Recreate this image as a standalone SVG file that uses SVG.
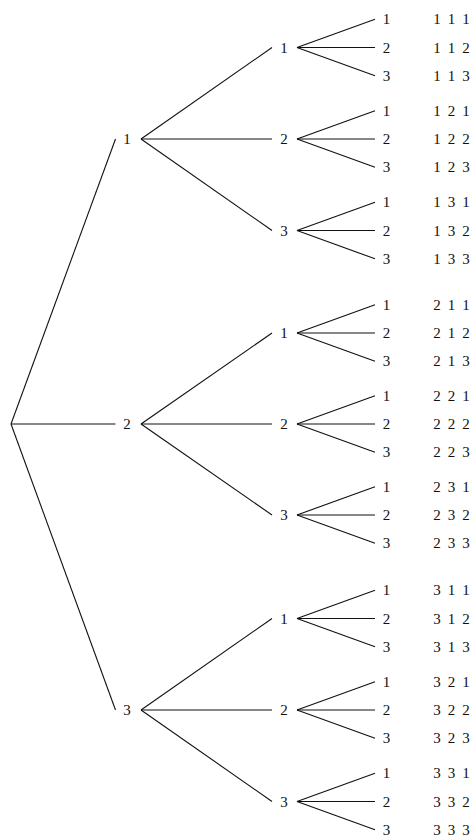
<svg xmlns="http://www.w3.org/2000/svg" width="475" height="837" viewBox="0 0 475 837">
<style>
text{font-family:"Liberation Serif","DejaVu Serif",serif;font-size:15px;fill:#111;text-anchor:middle}
line{stroke:#111;stroke-width:1.1}
</style>
<rect width="475" height="837" fill="#fff"/>
<g id="connectors">
<line x1="11" y1="424" x2="115.5" y2="139"/>
<line x1="11" y1="424" x2="115.5" y2="424"/>
<line x1="11" y1="424" x2="115.5" y2="710"/>
<line x1="141" y1="139" x2="272" y2="47.5"/>
<line x1="141" y1="139" x2="272" y2="139"/>
<line x1="141" y1="139" x2="272" y2="230.5"/>
<line x1="141" y1="424" x2="272" y2="333"/>
<line x1="141" y1="424" x2="272" y2="424"/>
<line x1="141" y1="424" x2="272" y2="515"/>
<line x1="141" y1="710" x2="272" y2="618.5"/>
<line x1="141" y1="710" x2="272" y2="710"/>
<line x1="141" y1="710" x2="272" y2="801.5"/>
<line x1="297" y1="47.5" x2="375" y2="19.2"/><line x1="297" y1="47.5" x2="375" y2="47.5"/><line x1="297" y1="47.5" x2="375" y2="75.8"/>
<line x1="297" y1="139" x2="375" y2="110.7"/><line x1="297" y1="139" x2="375" y2="139"/><line x1="297" y1="139" x2="375" y2="167.3"/>
<line x1="297" y1="230.5" x2="375" y2="202.2"/><line x1="297" y1="230.5" x2="375" y2="230.5"/><line x1="297" y1="230.5" x2="375" y2="258.8"/>
<line x1="297" y1="333" x2="375" y2="304.7"/><line x1="297" y1="333" x2="375" y2="333"/><line x1="297" y1="333" x2="375" y2="361.3"/>
<line x1="297" y1="424" x2="375" y2="395.7"/><line x1="297" y1="424" x2="375" y2="424"/><line x1="297" y1="424" x2="375" y2="452.3"/>
<line x1="297" y1="515" x2="375" y2="486.7"/><line x1="297" y1="515" x2="375" y2="515"/><line x1="297" y1="515" x2="375" y2="543.3"/>
<line x1="297" y1="618.5" x2="375" y2="590.2"/><line x1="297" y1="618.5" x2="375" y2="618.5"/><line x1="297" y1="618.5" x2="375" y2="646.8"/>
<line x1="297" y1="710" x2="375" y2="681.7"/><line x1="297" y1="710" x2="375" y2="710"/><line x1="297" y1="710" x2="375" y2="738.3"/>
<line x1="297" y1="801.5" x2="375" y2="773.2"/><line x1="297" y1="801.5" x2="375" y2="801.5"/><line x1="297" y1="801.5" x2="375" y2="829.8"/>
</g>
<g id="level1">
<text x="127" y="144">1</text>
<text x="127" y="429">2</text>
<text x="127" y="715">3</text>
</g>
<g id="level2">
<text x="284" y="52.5">1</text><text x="284" y="144">2</text><text x="284" y="235.5">3</text>
<text x="284" y="338">1</text><text x="284" y="429">2</text><text x="284" y="520">3</text>
<text x="284" y="623.5">1</text><text x="284" y="715">2</text><text x="284" y="806.5">3</text>
</g>
<g id="leaves">
<text x="386.5" y="24.2">1</text><text x="386.5" y="52.5">2</text><text x="386.5" y="80.8">3</text>
<text x="386.5" y="115.7">1</text><text x="386.5" y="144">2</text><text x="386.5" y="172.3">3</text>
<text x="386.5" y="207.2">1</text><text x="386.5" y="235.5">2</text><text x="386.5" y="263.8">3</text>
<text x="386.5" y="309.7">1</text><text x="386.5" y="338">2</text><text x="386.5" y="366.3">3</text>
<text x="386.5" y="400.7">1</text><text x="386.5" y="429">2</text><text x="386.5" y="457.3">3</text>
<text x="386.5" y="491.7">1</text><text x="386.5" y="520">2</text><text x="386.5" y="548.3">3</text>
<text x="386.5" y="595.2">1</text><text x="386.5" y="623.5">2</text><text x="386.5" y="651.8">3</text>
<text x="386.5" y="686.7">1</text><text x="386.5" y="715">2</text><text x="386.5" y="743.3">3</text>
<text x="386.5" y="778.2">1</text><text x="386.5" y="806.5">2</text><text x="386.5" y="834.8">3</text>
</g>
<g id="outcomes">
<text x="437 444 451.5 459 466" y="24.2">1 1 1</text><text x="437 444 451.5 459 466" y="52.5">1 1 2</text><text x="437 444 451.5 459 466" y="80.8">1 1 3</text>
<text x="437 444 451.5 459 466" y="115.7">1 2 1</text><text x="437 444 451.5 459 466" y="144">1 2 2</text><text x="437 444 451.5 459 466" y="172.3">1 2 3</text>
<text x="437 444 451.5 459 466" y="207.2">1 3 1</text><text x="437 444 451.5 459 466" y="235.5">1 3 2</text><text x="437 444 451.5 459 466" y="263.8">1 3 3</text>
<text x="437 444 451.5 459 466" y="309.7">2 1 1</text><text x="437 444 451.5 459 466" y="338">2 1 2</text><text x="437 444 451.5 459 466" y="366.3">2 1 3</text>
<text x="437 444 451.5 459 466" y="400.7">2 2 1</text><text x="437 444 451.5 459 466" y="429">2 2 2</text><text x="437 444 451.5 459 466" y="457.3">2 2 3</text>
<text x="437 444 451.5 459 466" y="491.7">2 3 1</text><text x="437 444 451.5 459 466" y="520">2 3 2</text><text x="437 444 451.5 459 466" y="548.3">2 3 3</text>
<text x="437 444 451.5 459 466" y="595.2">3 1 1</text><text x="437 444 451.5 459 466" y="623.5">3 1 2</text><text x="437 444 451.5 459 466" y="651.8">3 1 3</text>
<text x="437 444 451.5 459 466" y="686.7">3 2 1</text><text x="437 444 451.5 459 466" y="715">3 2 2</text><text x="437 444 451.5 459 466" y="743.3">3 2 3</text>
<text x="437 444 451.5 459 466" y="778.2">3 3 1</text><text x="437 444 451.5 459 466" y="806.5">3 3 2</text><text x="437 444 451.5 459 466" y="834.8">3 3 3</text>
</g>
</svg>
